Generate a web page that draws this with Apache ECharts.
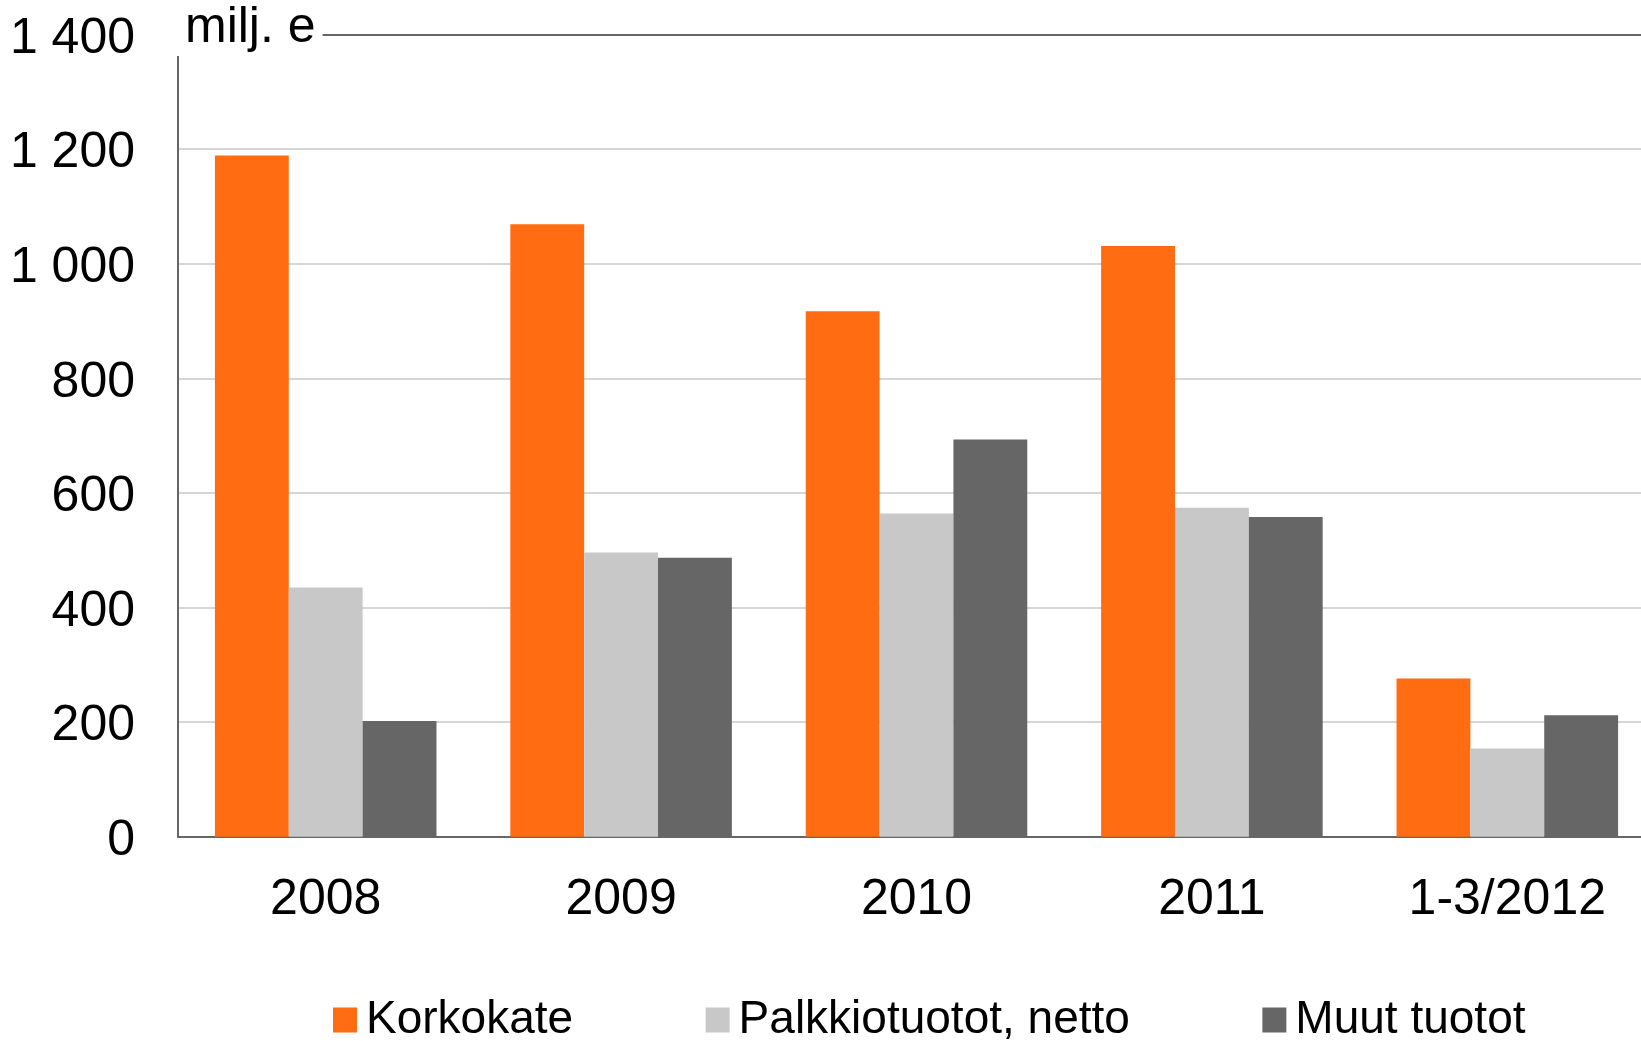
<!DOCTYPE html>
<html>
<head>
<meta charset="utf-8">
<title>Tuotot 2008–1-3/2012</title>
<script src="https://cdn.jsdelivr.net/npm/echarts@6/dist/echarts.min.js"></script>
<style>
  html, body { margin: 0; padding: 0; background: #ffffff; }
  #chart { width: 1641px; height: 1041px; }
</style>
</head>
<body>
<div id="chart"></div>
<script>
// Categories and values (milj. e)
const categories = ['2008', '2009', '2010', '2011', '1-3/2012'];
const korkokate = [1189, 1069, 917, 1031, 276];
const palkkiotuotot = [435, 496, 564, 574, 154];
const muutTuotot = [202, 487, 693, 558, 212];
const seriesNames = ['Korkokate', 'Palkkiotuotot, netto', 'Muut tuotot'];
const yTicks = { min: 0, max: 1400, step: 200 };
const unitLabel = 'milj. e';

const FONT = '"Liberation Sans", Arial, sans-serif';
const COLORS = ['#ff6c12', '#c8c8c8', '#666666'];

// "1 400" style thousands separator
function fmt(v) {
  return String(v).replace(/\B(?=(\d{3})+(?!\d))/g, ' ');
}

const chart = echarts.init(document.getElementById('chart'), null, { renderer: 'canvas' });

function bar(name, data, color) {
  return {
    name: name,
    type: 'bar',
    data: data,
    barGap: '0%',
    barCategoryGap: '25%',
    itemStyle: { color: color },
    emphasis: { disabled: true }
  };
}

chart.setOption({
  animation: false,
  backgroundColor: '#ffffff',
  color: COLORS,
  textStyle: { fontFamily: FONT },
  title: {
    text: unitLabel,
    left: 176,
    top: 3,
    padding: [0, 7, 3, 9],
    backgroundColor: '#ffffff',
    textStyle: { fontFamily: FONT, fontSize: 50, fontWeight: 'normal', color: '#000', lineHeight: 50 },
    z: 10
  },
  // plot area runs a little past the right edge of the canvas
  grid: { left: 178, width: 1477, top: 34.5, bottom: 204.3, outerBoundsMode: 'none', containLabel: false },
  legend: {
    data: seriesNames,
    left: 328,
    top: 988,
    itemWidth: 24,
    itemHeight: 25,
    itemGap: 132.5,
    icon: 'rect',
    selectedMode: false,
    textStyle: { fontFamily: FONT, fontSize: 46, color: '#000', lineHeight: 48, padding: [6, 0, 0, 4] }
  },
  xAxis: [
    {
      type: 'category',
      data: categories,
      position: 'bottom',
      axisLine: { show: true, lineStyle: { color: '#666666', width: 2 } },
      axisTick: { show: false },
      axisLabel: { color: '#000', fontFamily: FONT, fontSize: 50, margin: 39 },
      splitLine: { show: false }
    },
    {
      type: 'category',
      data: categories,
      position: 'top',
      axisLine: { show: true, lineStyle: { color: '#666666', width: 2 } },
      axisTick: { show: false },
      axisLabel: { show: false },
      splitLine: { show: false }
    }
  ],
  yAxis: {
    type: 'value',
    min: yTicks.min,
    max: yTicks.max,
    interval: yTicks.step,
    axisLine: { show: true, lineStyle: { color: '#666666', width: 2 } },
    axisTick: { show: false },
    axisLabel: {
      color: '#000', fontFamily: FONT, fontSize: 50, margin: 43,
      verticalAlign: 'top', lineHeight: 9,
      formatter: fmt
    },
    splitLine: { show: true, lineStyle: { color: '#c8c8c8', width: 1.5 } }
  },
  series: [
    bar(seriesNames[0], korkokate, COLORS[0]),
    bar(seriesNames[1], palkkiotuotot, COLORS[1]),
    bar(seriesNames[2], muutTuotot, COLORS[2])
  ]
});
</script>
</body>
</html>
